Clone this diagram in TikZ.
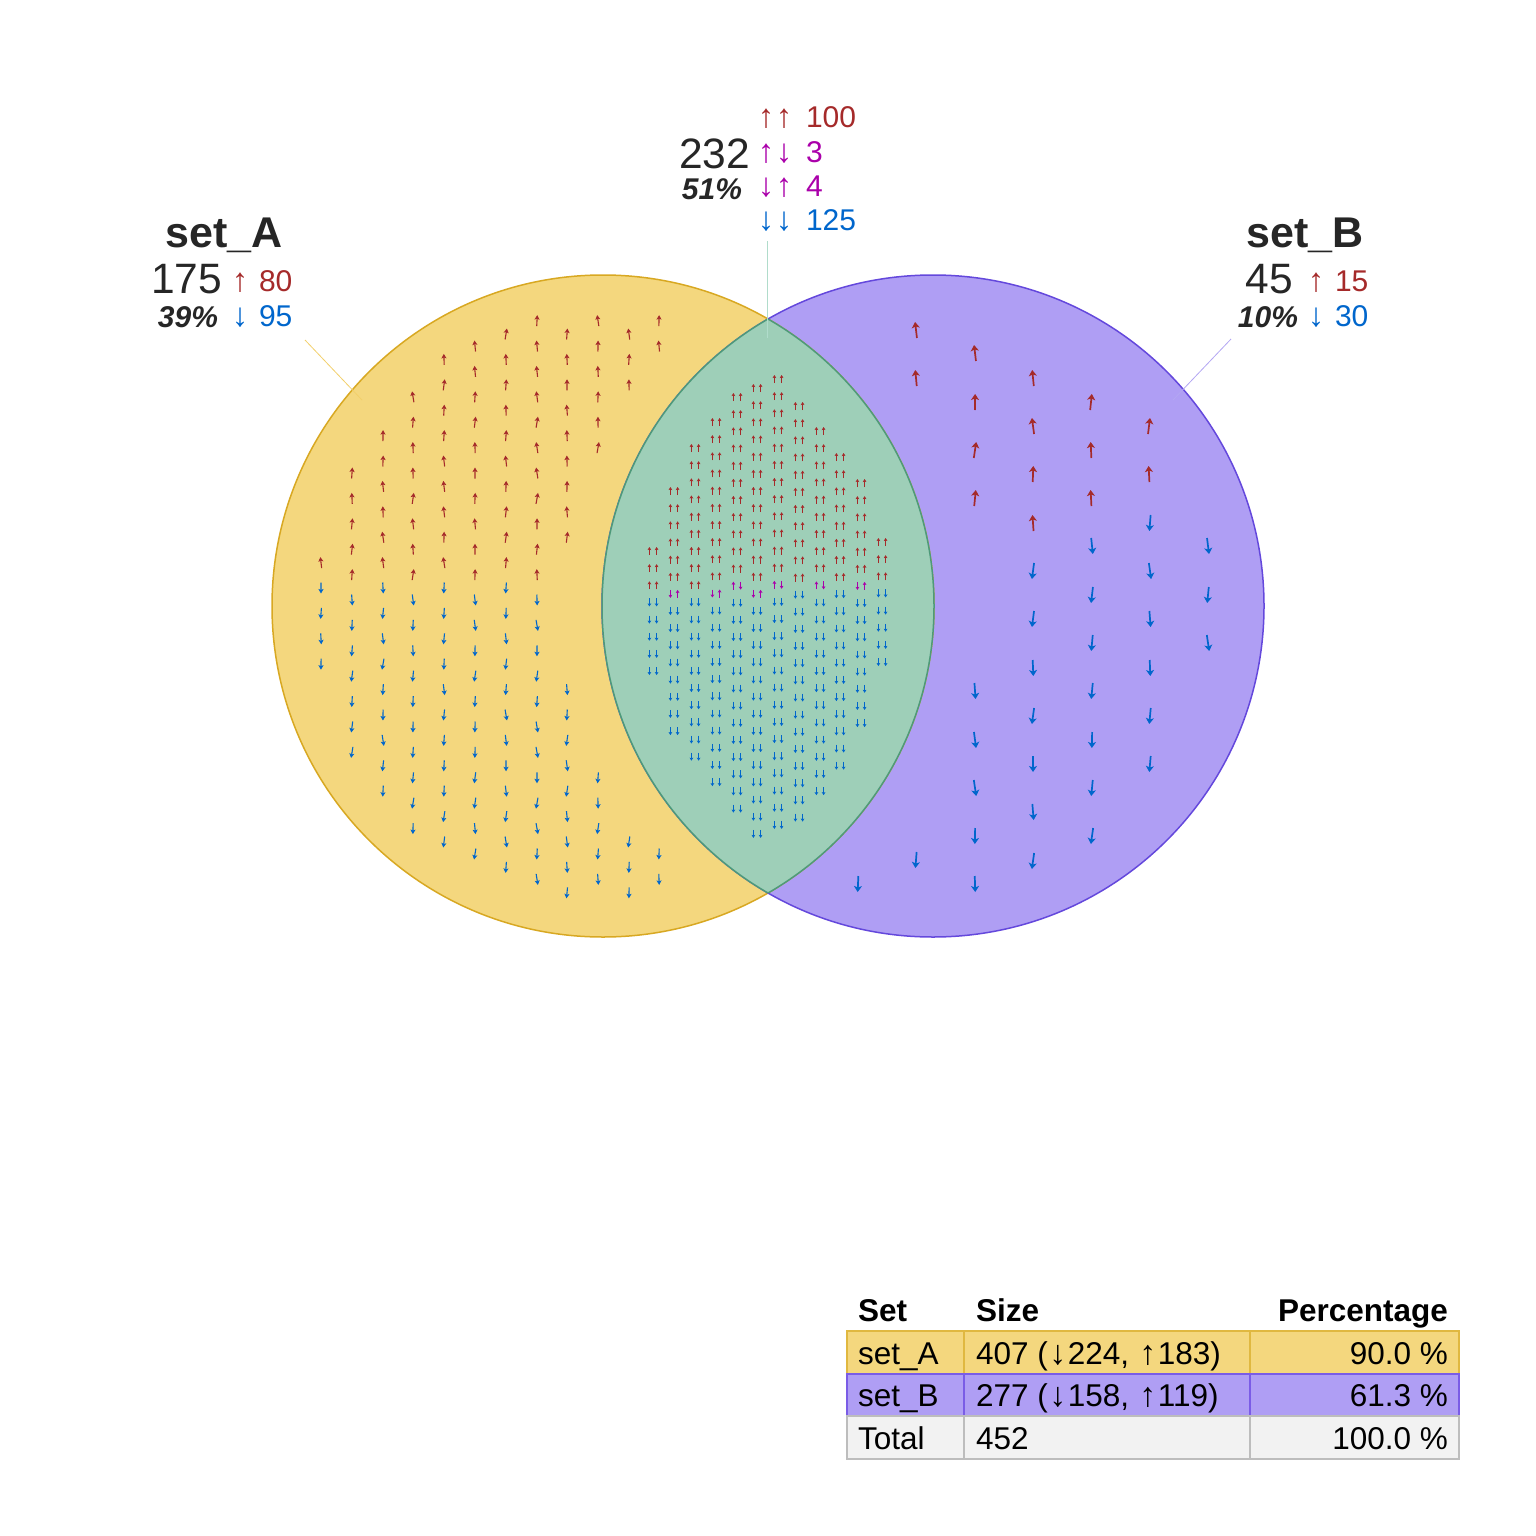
\documentclass[tikz,border=0pt]{standalone}
\usepackage{fontspec}
\setmainfont{Liberation Sans}
\usetikzlibrary{arrows.meta}
\definecolor{txt}{HTML}{262626}
\definecolor{upc}{HTML}{A52A2A}
\definecolor{dnc}{HTML}{0066CC}
\definecolor{mixc}{HTML}{AA00AA}
\definecolor{yfill}{HTML}{F4D77E}
\definecolor{yline}{HTML}{D8A822}
\definecolor{pfill}{HTML}{AF9EF4}
\definecolor{pline}{HTML}{6448DC}
\definecolor{gfill}{HTML}{9ECFB8}
\definecolor{gline}{HTML}{4E9A7A}
\definecolor{tyline}{HTML}{E0B840}
\definecolor{tpline}{HTML}{7A5CE6}
\definecolor{tgfill}{HTML}{F2F2F2}
\definecolor{tgline}{HTML}{BDBDBD}
\definecolor{leadA}{HTML}{F2CF6A}
\definecolor{leadB}{HTML}{B3A6F2}
\definecolor{leadI}{HTML}{B0DCCB}
\newcommand\fsz[1]{\fontsize{#1}{#1}\selectfont}
\newcommand\tup{\kern1.5pt{\fsz{34}↑}\kern1.5pt}
\newcommand\tdn{\kern1.5pt{\fsz{34}↓}\kern1.5pt}
\begin{document}
\begin{tikzpicture}[x=1pt,y=-1pt,
  every node/.style={inner sep=0pt,outer sep=0pt},
  setname/.style={font=\fsz{43}\bfseries,text=txt,anchor=base},
  cnt/.style={font=\fsz{42.5},text=txt,anchor=base east},
  pct/.style={font=\fsz{30}\bfseries\itshape,text=txt,anchor=base east},
  num/.style={font=\fsz{30},anchor=base west},
  glyph/.style={font=\fsz{33},anchor=base},
  tabh/.style={font=\fsz{31.5}\bfseries,text=black},
  tabt/.style={font=\fsz{31.5},text=black},
  aarr/.style={line width=1.1pt,-{Stealth[length=4.5pt,width=5pt,inset=1pt]}},
  barr/.style={line width=1.7pt,-{Stealth[length=6pt,width=8pt,inset=1.5pt]}},
  iarr/.style={line width=0.9pt,-{Stealth[length=3pt,width=3.6pt,inset=0.6pt]}},
  lead/.style={line width=0.8pt}
]
\pgfmathsetseed{11}
\useasboundingbox (0,0) rectangle (1536,1536);

% circles
\fill[yfill] (603,606) circle[radius=331pt];
\fill[pfill] (933,606) circle[radius=331pt];
\draw[yline,line width=1.5pt] (603,606) circle[radius=331pt];
\draw[pline,line width=1.5pt] (933,606) circle[radius=331pt];
\begin{scope}
  \clip (603,606) circle[radius=331pt];
  \fill[gfill] (933,606) circle[radius=331pt];
  \draw[gline,line width=1.5pt] (933,606) circle[radius=331pt];
\end{scope}
\begin{scope}
  \clip (933,606) circle[radius=331pt];
  \draw[gline,line width=1.5pt] (603,606) circle[radius=331pt];
\end{scope}

% set_A only arrows
\foreach \x/\b/\uk/\nu/\dk/\nd in {321/588/-1/1/0/4, 352/600/-5/5/0/7, 383/588/-6/6/0/9,
  413/600/-8/8/0/10, 444/588/-9/9/0/11, 475/600/-10/10/0/11, 506/588/-10/10/0/12,
  537/600/-11/11/0/12, 567/588/-10/9/4/9, 598/600/-11/6/7/5, 629/588/-10/3/10/3,
  659/600/-11/2/10/2}{
  \foreach \i in {1,...,\nu}{
    \pgfmathsetmacro\yy{\b+(\uk+\i-1)*25.4}
    \pgfmathsetmacro\dd{rand*1.0}
    \draw[aarr,upc] (\x+\dd,\yy+5.5) -- (\x-\dd,\yy-5.5);
  }
  \foreach \i in {1,...,\nd}{
    \pgfmathsetmacro\yy{\b+(\dk+\i-1)*25.4}
    \pgfmathsetmacro\dd{rand*1.0}
    \draw[aarr,dnc] (\x+\dd,\yy-5.5) -- (\x-\dd,\yy+5.5);
  }
}

% set_B only arrows
\foreach \x/\y in {916/330,916/378,975/353,975/402,975/450,975/498,1033/378,1033/426,
  1033/474,1033/523,1091/402,1091/450,1091/498,1149/426,1149/474}{
  \pgfmathsetmacro\dd{rand*1.2}
  \draw[barr,upc] (\x+\dd,\y+8) -- (\x-\dd,\y-8);
}
\foreach \x/\y in {858/884,916/860,975/691,975/740,975/788,975/836,975/884,
  1033/571,1033/619,1033/668,1033/716,1033/764,1033/812,1033/861,
  1092/546,1092/595,1092/643,1092/691,1092/740,1092/788,1092/836,
  1150/523,1150/571,1150/619,1150/668,1150/716,1150/764,
  1208/546,1208/595,1208/643}{
  \pgfmathsetmacro\dd{rand*1.2}
  \draw[barr,dnc] (\x+\dd,\y-8) -- (\x-\dd,\y+8);
}

% intersection arrows
\foreach \x/\t/\nu/\m/\nd in {653/551/3/0/5, 674/491/6/2/8, 695/448/9/0/10,
  716/422/10/2/11, 737/397/11/1/13, 757/388/12/2/14, 778/379/12/1/14,
  799/406/11/0/14, 820/431/9/1/12, 840/457/8/0/11, 861/483/6/2/8, 882/542/3/0/5}{
  \foreach \i in {1,...,\nu}{
    \pgfmathsetmacro\yy{\t+(\i-1)*17.15}
    \draw[iarr,upc] (\x-3.6,\yy+4) -- (\x-3.6,\yy-4);
    \draw[iarr,upc] (\x+3.6,\yy+4) -- (\x+3.6,\yy-4);
  }
  \pgfmathsetmacro\ym{\t+\nu*17.15}
  \ifnum\m=1
    \draw[iarr,mixc] (\x-3.6,\ym+4) -- (\x-3.6,\ym-4);
    \draw[iarr,mixc] (\x+3.6,\ym-4) -- (\x+3.6,\ym+4);
  \fi
  \ifnum\m=2
    \draw[iarr,mixc] (\x-3.6,\ym-4) -- (\x-3.6,\ym+4);
    \draw[iarr,mixc] (\x+3.6,\ym+4) -- (\x+3.6,\ym-4);
  \fi
  \pgfmathsetmacro\yd{\t+(\nu+min(\m,1))*17.15}
  \foreach \i in {1,...,\nd}{
    \pgfmathsetmacro\yy{\yd+(\i-1)*17.15}
    \draw[iarr,dnc] (\x-3.6,\yy-4) -- (\x-3.6,\yy+4);
    \draw[iarr,dnc] (\x+3.6,\yy-4) -- (\x+3.6,\yy+4);
  }
}

% leader lines
\coordinate (lA1) at (305,340); \coordinate (lA2) at (362,400);
\coordinate (lB1) at (1231,339); \coordinate (lB2) at (1173,400);
\coordinate (lI1) at (767,241); \coordinate (lI2) at (767,338);
\draw[lead,leadA] (lA1) -- (lA2);
\draw[lead,leadB] (lB1) -- (lB2);
\draw[lead,leadI] (lI1) -- (lI2);

% set_A label
\node[setname] (nA) at (224,247) {set\_A};
\node[cnt] (cA) at (222,293) {175};
\node[pct] (pA) at (218,327) {39\%};
\node[glyph,text=upc] (gAu) at (240,291) {↑};
\node[num,text=upc] (vAu) at (259,291) {80};
\node[glyph,text=dnc] (gAd) at (240,326) {↓};
\node[num,text=dnc] (vAd) at (259,326) {95};

% set_B label
\node[setname] (nB) at (1305,247) {set\_B};
\node[cnt] (cB) at (1293,293) {45};
\node[pct] (pB) at (1298,327) {10\%};
\node[glyph,text=upc] (gBu) at (1316,291) {↑};
\node[num,text=upc] (vBu) at (1335,291) {15};
\node[glyph,text=dnc] (gBd) at (1316,326) {↓};
\node[num,text=dnc] (vBd) at (1335,326) {30};

% intersection label
\node[cnt] (cI) at (750,168) {232};
\node[pct] (pI) at (742,199) {51\%};
\node[glyph,text=upc] (gI1a) at (766,128) {↑};
\node[glyph,text=upc] (gI1b) at (784,128) {↑};
\node[num,text=upc] (vI1) at (806,128) {100};
\node[glyph,text=mixc] (gI2a) at (766,162) {↑};
\node[glyph,text=mixc] (gI2b) at (784,162) {↓};
\node[num,text=mixc] (vI2) at (806,162) {3};
\node[glyph,text=mixc] (gI3a) at (766,196) {↓};
\node[glyph,text=mixc] (gI3b) at (784,196) {↑};
\node[num,text=mixc] (vI3) at (806,196) {4};
\node[glyph,text=dnc] (gI4a) at (766,230) {↓};
\node[glyph,text=dnc] (gI4b) at (784,230) {↓};
\node[num,text=dnc] (vI4) at (806,230) {125};

% table
\draw[fill=yfill,draw=tyline,line width=1.2pt] (847,1331) rectangle (964,1374);
\draw[fill=yfill,draw=tyline,line width=1.2pt] (964,1331) rectangle (1250,1374);
\draw[fill=yfill,draw=tyline,line width=1.2pt] (1250,1331) rectangle (1459,1374);
\draw[fill=pfill,draw=tpline,line width=1.2pt] (847,1374) rectangle (964,1416);
\draw[fill=pfill,draw=tpline,line width=1.2pt] (964,1374) rectangle (1250,1416);
\draw[fill=pfill,draw=tpline,line width=1.2pt] (1250,1374) rectangle (1459,1416);
\draw[fill=tgfill,draw=tgline,line width=1.2pt] (847,1416) rectangle (964,1459);
\draw[fill=tgfill,draw=tgline,line width=1.2pt] (964,1416) rectangle (1250,1459);
\draw[fill=tgfill,draw=tgline,line width=1.2pt] (1250,1416) rectangle (1459,1459);

\node[tabh,anchor=base west] (h1) at (858,1321) {Set};
\node[tabh,anchor=base west] (h2) at (976,1321) {Size};
\node[tabh,anchor=base east] (h3) at (1448,1321) {Percentage};
\node[tabt,anchor=base west] (r1a) at (858,1364) {set\_A};
\node[tabt,anchor=base west] (r1b) at (976,1364) {407 (\tdn224, \tup183)};
\node[tabt,anchor=base east] (r1c) at (1448,1364) {90.0 \%};
\node[tabt,anchor=base west] (r2a) at (858,1406) {set\_B};
\node[tabt,anchor=base west] (r2b) at (976,1406) {277 (\tdn158, \tup119)};
\node[tabt,anchor=base east] (r2c) at (1448,1406) {61.3 \%};
\node[tabt,anchor=base west] (r3a) at (858,1449) {Total};
\node[tabt,anchor=base west] (r3b) at (976,1449) {452};
\node[tabt,anchor=base east] (r3c) at (1448,1449) {100.0 \%};
\end{tikzpicture}
\end{document}
